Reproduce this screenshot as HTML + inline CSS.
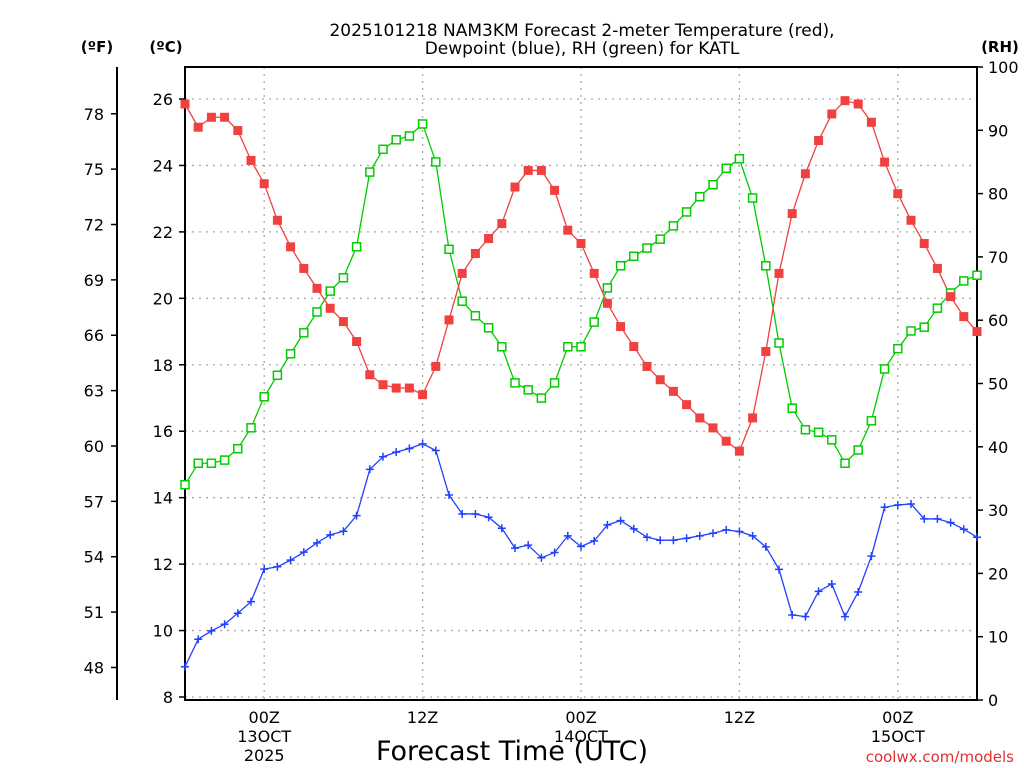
<!DOCTYPE html>
<html><head><meta charset="utf-8"><style>
body{margin:0;background:#fff;}
svg{display:block;font-family:"DejaVu Sans","Liberation Sans",sans-serif;}
</style></head><body>
<svg id="chart" width="1024" height="768" viewBox="0 0 1024 768" xmlns="http://www.w3.org/2000/svg">
<text x="582" y="36" font-size="17" text-anchor="middle">2025101218 NAM3KM Forecast 2-meter Temperature (red),</text>
<text x="582" y="54" font-size="17" text-anchor="middle">Dewpoint (blue), RH (green) for KATL</text>
<text x="97" y="52" font-size="15" font-weight="bold" text-anchor="middle">(ºF)</text>
<text x="166" y="52" font-size="15" font-weight="bold" text-anchor="middle">(ºC)</text>
<text x="1000" y="52" font-size="15" font-weight="bold" text-anchor="middle">(RH)</text>
<text x="512" y="760" font-size="27" text-anchor="middle">Forecast Time (UTC)</text>
<text x="1014" y="762" font-size="15" fill="#e03030" text-anchor="end">coolwx.com/models</text>
<g id="grid"></g><g id="axes"></g><g id="series"></g>
</svg>
<script>
const hours = Array.from({length:61},(_,i)=>i); // forecast hours from 18Z 12 Oct
const tempC = [25.85,25.15,25.45,25.45,25.05,24.15,23.45,22.35,21.55,20.9,20.3,19.7,19.3,18.7,17.7,17.4,17.3,17.3,17.1,17.95,19.35,20.75,21.35,21.8,22.25,23.35,23.85,23.85,23.25,22.05,21.65,20.75,19.85,19.15,18.55,17.95,17.55,17.2,16.8,16.4,16.1,15.7,15.4,16.4,18.4,20.75,22.55,23.75,24.75,25.55,25.95,25.85,25.3,24.1,23.15,22.35,21.65,20.9,20.05,19.45,19.0];
const dewC = [8.91,9.74,9.99,10.19,10.52,10.87,11.85,11.92,12.12,12.36,12.64,12.88,12.99,13.46,14.85,15.23,15.37,15.48,15.62,15.42,14.08,13.51,13.51,13.41,13.08,12.48,12.57,12.19,12.35,12.85,12.53,12.7,13.18,13.31,13.06,12.81,12.72,12.72,12.78,12.85,12.93,13.03,12.98,12.85,12.52,11.84,10.47,10.42,11.18,11.4,10.42,11.16,12.24,13.71,13.78,13.81,13.36,13.36,13.25,13.05,12.81];
const rh = [34,37.4,37.4,37.9,39.7,43,47.9,51.3,54.7,58,61.3,64.6,66.7,71.6,83.4,87,88.5,89.1,91,85,71.2,63,60.7,58.8,55.8,50.1,49,47.7,50.1,55.8,55.8,59.7,65.1,68.6,70.1,71.4,72.8,74.9,77.1,79.5,81.4,84,85.5,79.3,68.6,56.4,46.1,42.7,42.3,41.1,37.4,39.5,44.1,52.3,55.5,58.3,58.9,61.9,64.3,66.2,67.1];
const cTicks = [8,10,12,14,16,18,20,22,24,26];
const fTicks = [48,51,54,57,60,63,66,69,72,75,78];
const rhTicks = [0,10,20,30,40,50,60,70,80,90,100];
const xTickHours = [6,18,30,42,54];
const xTickLabels = [["00Z","13OCT","2025"],["12Z"],["00Z","14OCT"],["12Z"],["00Z","15OCT"]];

const L=185,R=977,T=67,B=700;
const x=h=>L+(h-0)*(R-L)/60;
const yC=c=>99+(26-c)*(697-99)/18;
const yRH=v=>B-v*(B-T)/100;
const yF=f=>yC((f-32)*5/9);
const NS="http://www.w3.org/2000/svg";
function mk(tag,attrs,parent,txt){const e=document.createElementNS(NS,tag);for(const k in attrs)e.setAttribute(k,attrs[k]);if(txt!==undefined)e.textContent=txt;parent.appendChild(e);return e;}
const grid=document.getElementById('grid'),axes=document.getElementById('axes'),ser=document.getElementById('series');

cTicks.forEach(c=>{
  const g=mk('line',{x1:L,x2:R,y1:yC(c),y2:yC(c),stroke:'#aaa','stroke-dasharray':'2,5','stroke-width':1.3},grid);
  
  
  const t=mk('line',{x1:L-6,x2:L,y1:yC(c),y2:yC(c),stroke:'#000','stroke-width':1.5},axes);
  
  
  const l=mk('text',{x:L-12,y:yC(c)+6,'font-size':16,'text-anchor':'end'},axes,String(c));
  
  
});
xTickHours.forEach((h,i)=>{
  const g=mk('line',{x1:x(h),x2:x(h),y1:T,y2:B,stroke:'#aaa','stroke-dasharray':'2,5','stroke-width':1.3},grid);
  
  
  xTickLabels[i].forEach((s,j)=>{
    const l=mk('text',{x:x(h),y:723+j*19,'font-size':16,'text-anchor':'middle'},axes,s);
    
    
  });
});
fTicks.forEach(f=>{
  const t=mk('line',{x1:111,x2:117,y1:yF(f),y2:yF(f),stroke:'#000','stroke-width':1.5},axes);
  
  
  const l=mk('text',{x:104,y:yF(f)+6,'font-size':16,'text-anchor':'end'},axes,String(f));
  
  
});
rhTicks.forEach(v=>{
  const t=mk('line',{x1:R,x2:R+6,y1:yRH(v),y2:yRH(v),stroke:'#000','stroke-width':1.5},axes);
  
  
  const l=mk('text',{x:R+11,y:yRH(v)+6,'font-size':16},axes,String(v));
  
  
});
const fa=mk('line',{x1:117,x2:117,y1:T,y2:B,stroke:'#000','stroke-width':2},axes);


const fr=mk('rect',{x:L,y:T,width:R-L,height:B-T,fill:'none',stroke:'#000','stroke-width':2},axes);



function line(vals,yf,color,name){
  const p=mk('polyline',{points:vals.map((v,i)=>x(hours[i])+','+yf(v)).join(' '),fill:'none',stroke:color,'stroke-width':1.3},ser);
  
  
}
line(rh,yRH,'#00cc00','rh-line');
line(tempC,yC,'#f04040','temperature-line');
line(dewC,yC,'#2040ff','dewpoint-line');
rh.forEach((v,i)=>{
  const m=mk('rect',{x:x(hours[i])-4,y:yRH(v)-4,width:8,height:8,fill:'#fff',stroke:'#00cc00','stroke-width':1.5},ser);
  
  
});
tempC.forEach((v,i)=>{
  const m=mk('rect',{x:x(hours[i])-4.5,y:yC(v)-4.5,width:9,height:9,fill:'#f04040'},ser);
  
  
});
dewC.forEach((v,i)=>{
  const cx=x(hours[i]),cy=yC(v);
  const m=mk('path',{d:`M${cx-4},${cy}H${cx+4}M${cx},${cy-4}V${cy+4}`,stroke:'#2040ff','stroke-width':1.5},ser);
  
  
});
</script>
</body></html>
